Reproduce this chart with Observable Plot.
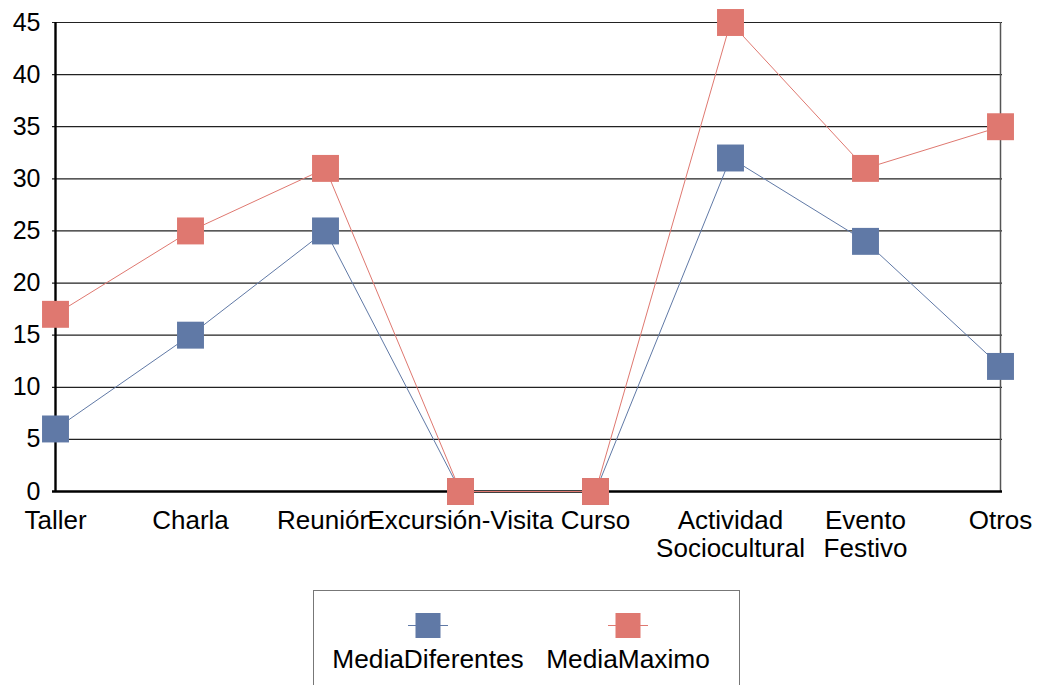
<!DOCTYPE html>
<html>
<head>
<meta charset="utf-8">
<script src="https://cdn.jsdelivr.net/npm/d3@7"></script>
<script src="https://cdn.jsdelivr.net/npm/@observablehq/plot@0.6"></script>
<style>
  html, body { margin: 0; padding: 0; background: #fff; overflow: hidden; }
  body { width: 1044px; height: 685px; position: relative; font-family: "Liberation Sans", Arial, sans-serif; }
  #legend { position: absolute; left: 313px; top: 590px; width: 427px; height: 110px; border: 1px solid #777; box-sizing: border-box; }
  .item { position: absolute; top: 0; width: 220px; text-align: center; }
  .item svg { display: block; margin: 22px auto 0 auto; }
  .item span { display: block; font-size: 26.3px; line-height: 28px; margin-top: 6px; color: #000; white-space: nowrap; }
</style>
</head>
<body>
<div id="chart"></div>
<div id="legend"></div>
<script>
const categories = ["Taller", "Charla", "Reunión", "Excursión-Visita", "Curso", "Actividad\nSociocultural", "Evento\nFestivo", "Otros"];
const mediaDiferentes = [6, 15, 25, 0, 0, 32, 24, 12];
const mediaMaximo = [17, 25, 31, 0, 0, 45, 31, 35];
const seriesNames = ["MediaDiferentes", "MediaMaximo"];
const seriesColors = ["#6079a6", "#df7870"];
const yTicks = [0, 5, 10, 15, 20, 25, 30, 35, 40, 45];

const rows = [];
[mediaDiferentes, mediaMaximo].forEach((vals, s) => {
  vals.forEach((v, i) => rows.push({cat: categories[i], value: v, series: seriesNames[s]}));
});
const blue = rows.filter(d => d.series === seriesNames[0]);
const red = rows.filter(d => d.series === seriesNames[1]);

const chart = Plot.plot({
  width: 1044,
  height: 580,
  marginTop: 22,
  marginBottom: 89,
  marginLeft: 52,
  marginRight: 42,
  style: {fontFamily: "'Liberation Sans', Arial, sans-serif", fontSize: "25px", color: "#000", background: "#fff"},
  x: {type: "point", domain: categories, padding: 0},
  y: {domain: [0, 45], ticks: yTicks},
  marks: [
    Plot.ruleY(yTicks.filter(t => t > 0), {stroke: "#222", strokeWidth: 1.2}),
    Plot.ruleX([categories[categories.length - 1]], {stroke: "#555", strokeWidth: 1.5}),
    Plot.ruleX([categories[0]], {stroke: "#000", strokeWidth: 2.4}),
    Plot.ruleY([0], {stroke: "#000", strokeWidth: 2.6}),
    Plot.axisY({ticks: yTicks, tickSize: 0, tickPadding: 12, fontSize: 25, label: null}),
    Plot.axisX({tickSize: 0, tickPadding: 17, fontSize: 26, label: null, lineHeight: 1.1}),
    Plot.line(blue, {x: "cat", y: "value", stroke: seriesColors[0], strokeWidth: 1}),
    Plot.dot(blue, {x: "cat", y: "value", symbol: "square", r: 15.2, fill: seriesColors[0], stroke: "none"}),
    Plot.line(red, {x: "cat", y: "value", stroke: seriesColors[1], strokeWidth: 1}),
    Plot.dot(red, {x: "cat", y: "value", symbol: "square", r: 15.2, fill: seriesColors[1], stroke: "none"})
  ]
});
document.getElementById("chart").appendChild(chart);

// legend
const legend = document.getElementById("legend");
const centers = [114, 314];
seriesNames.forEach((name, i) => {
  const item = document.createElement("div");
  item.className = "item";
  item.style.left = (centers[i] - 110) + "px";
  const svg = d3.create("svg").attr("width", 42).attr("height", 26);
  svg.append("line").attr("x1", 1).attr("x2", 41).attr("y1", 12.5).attr("y2", 12.5)
    .attr("stroke", seriesColors[i]).attr("stroke-width", 1);
  svg.append("rect").attr("x", 8.5).attr("y", 0).attr("width", 25).attr("height", 25)
    .attr("fill", seriesColors[i]);
  item.appendChild(svg.node());
  const sp = document.createElement("span");
  sp.textContent = name;
  item.appendChild(sp);
  legend.appendChild(item);
});
</script>
</body>
</html>
